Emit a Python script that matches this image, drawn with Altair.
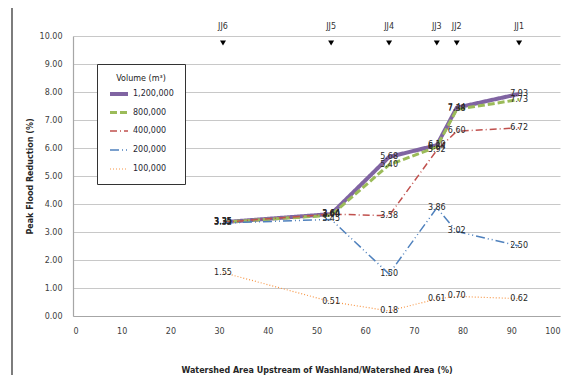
import altair as alt
import pandas as pd

# ---- data ----
sites = ["JJ6", "JJ5", "JJ4", "JJ3", "JJ2", "JJ1"]
area_pct = [30.8, 53.0, 64.9, 74.7, 78.8, 91.6]
volumes = ["1,200,000", "800,000", "400,000", "200,000", "100,000"]
v_1200000 = [3.35, 3.64, 5.68, 6.10, 7.44, 7.93]
v_800000 = [3.35, 3.60, 5.40, 6.04, 7.38, 7.73]
v_400000 = [3.35, 3.64, 3.58, 5.92, 6.60, 6.72]
v_200000 = [3.32, 3.45, 1.50, 3.86, 3.02, 2.50]
v_100000 = [1.55, 0.51, 0.18, 0.61, 0.70, 0.62]
series = [v_1200000, v_800000, v_400000, v_200000, v_100000]

colors = ["#8064A2", "#9BBB59", "#C0504D", "#4F81BD", "#F79646"]
dashes = [[1, 0], [7, 3], [7, 3, 1, 3], [9, 3, 1, 3, 1, 3], [1, 2]]
widths = [4, 3, 1.5, 1.5, 1.2]

rows = []
for k, (vol, vals) in enumerate(zip(volumes, series)):
    for s, a, v in zip(sites, area_pct, vals):
        rows.append({"volume": vol, "k": k, "site": s, "area": a, "value": v})
df = pd.DataFrame(rows)
sites_df = pd.DataFrame({"site": sites, "area": area_pct})

FONT = "DejaVu Sans"

x_axis = alt.Axis(
    values=list(range(0, 101, 10)), grid=False, ticks=False, labelPadding=11,
    title="Watershed Area Upstream of Washland/Watershed  Area  (%)",
    titlePadding=31, titleFontWeight="bold",
)
y_axis = alt.Axis(
    values=list(range(0, 11)), format=".2f", grid=True, ticks=False,
    labelPadding=11, title="Peak Flood Reduction (%)", titlePadding=5,
    titleFontWeight="bold", tickCount=11,
)
xs = alt.Scale(domain=[0, 100], nice=False)
ys = alt.Scale(domain=[0, 10], nice=False)

legend = alt.Legend(
    orient="none", legendX=24, legendY=28, title="Volume (m\u00b3)",
    titleFontWeight="normal", titleFontSize=8, titleFont=FONT, titleColor="#222222",
    titleAnchor="middle", titlePadding=0, labelFont=FONT, labelFontSize=8,
    labelColor="#1f1f33", symbolType="stroke", symbolSize=324,
    strokeColor="#333333", fillColor="white", gridAlign="all",
    padding=11, rowPadding=0, labelOffset=3,
)

X = alt.X("area:Q", scale=xs, axis=x_axis)
Y = alt.Y("value:Q", scale=ys, axis=y_axis)

lines = alt.Chart(df).mark_line().encode(
    x=X, y=Y,
    color=alt.Color("volume:N", scale=alt.Scale(domain=volumes, range=colors), legend=legend),
    strokeDash=alt.StrokeDash("volume:N", scale=alt.Scale(domain=volumes, range=dashes), legend=legend),
    strokeWidth=alt.StrokeWidth("volume:N", scale=alt.Scale(type="ordinal", domain=volumes, range=widths), legend=legend),
)

labels = alt.Chart(df).mark_text(fontSize=8, font=FONT, color="#262626").encode(
    x=X, y=Y, text=alt.Text("value:Q", format=".2f"),
)

site_text = alt.Chart(sites_df).mark_text(fontSize=8, font=FONT, color="#333333").encode(
    x=X, y=alt.value(-9), text="site:N"
)
site_tri = alt.Chart(sites_df).mark_point(
    shape="triangle-down", filled=True, color="black", opacity=1, size=36
).encode(x=X, y=alt.value(7))

one = pd.DataFrame({"a": [0]})
frame_top = alt.Chart(one).mark_rule(color="#262626", strokeWidth=1.2).encode(
    x=alt.value(-61), x2=alt.value(520), y=alt.value(-29)
)
frame_left = alt.Chart(one).mark_rule(color="#262626", strokeWidth=1.2).encode(
    x=alt.value(-61), y=alt.value(-29), y2=alt.value(360)
)

chart = alt.layer(lines, labels, site_text, site_tri, frame_top, frame_left).properties(
    width=487, height=280,
    autosize=alt.AutoSizeParams(type="none"),
    padding={"left": 65, "top": 28, "right": 9, "bottom": 59},
).configure_view(strokeWidth=0).configure_axis(
    labelFont=FONT, labelFontSize=8, labelColor="#404040",
    titleFont=FONT, titleFontSize=8, titleColor="#262626",
    domainColor="#A6A6A6", domainWidth=1.2, gridColor="#C8C8C8",
)

chart.save("out.html", embed_options={"renderer": "svg", "actions": False})
